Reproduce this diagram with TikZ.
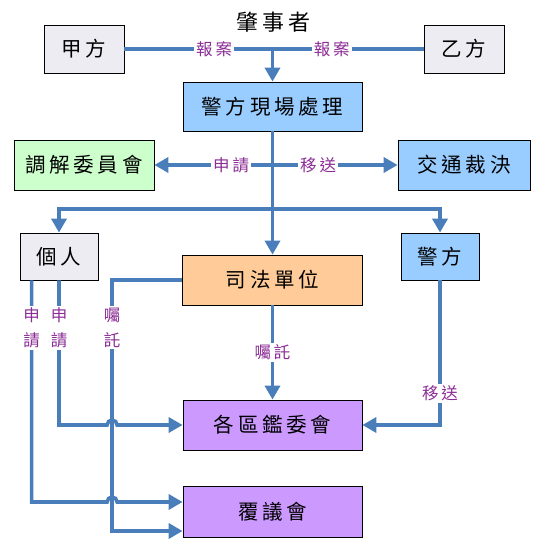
\documentclass[tikz,border=0pt]{standalone}
\usepackage{fontspec}
\newfontfamily\boxfont[LetterSpace=18]{Noto Sans CJK TC}
\newfontfamily\labfont[LetterSpace=18]{Noto Sans CJK TC}
\newfontfamily\vlabfont{Noto Sans CJK TC}
\usetikzlibrary{arrows.meta,calc,shadows}
\definecolor{flowblue}{RGB}{74,126,187}
\definecolor{labpurple}{RGB}{140,45,150}
\definecolor{partygray}{RGB}{236,236,242}
\definecolor{policeblue}{RGB}{153,204,255}
\definecolor{mediategreen}{RGB}{204,255,204}
\definecolor{courtorange}{RGB}{255,204,153}
\definecolor{boardpurple}{RGB}{204,153,255}
\tikzset{
  box/.style={draw=black, line width=0.8pt, inner sep=0pt, font=\boxfont\fontsize{20.5}{20.5}\selectfont,
    drop shadow={shadow xshift=0.8pt, shadow yshift=-1.2pt, opacity=0.35}},
  conn/.style={draw=flowblue, line width=3.6pt},
  conarr/.style={conn, -{Triangle[width=15pt,length=14pt]}},
  lab/.style={fill=white, text=labpurple, inner sep=2pt, font=\labfont\fontsize{16.5}{16.5}\selectfont},
  vlab/.style={fill=white, text=labpurple, inner sep=2pt, align=center, font=\vlabfont\fontsize{16.5}{25}\selectfont},
}

\begin{document}
\begin{tikzpicture}[x=1pt,y=-1pt]
	%%%%% START %%%%%
	\useasboundingbox (0,0) rectangle (544,548);

	\node[font=\boxfont\fontsize{22}{22}\selectfont] (driver) at (273.5,22) {肇事者};
	\node[box, fill=partygray, minimum width=80pt, minimum height=48pt] (jia) at (84,49) {甲方};
	\node[box, fill=partygray, minimum width=80pt, minimum height=48pt] (yi) at (464,49) {乙方};
	\node[box, fill=policeblue, minimum width=179pt, minimum height=49pt] (scene) at (272.5,106.5) {警方現場處理};

	\node[box, fill=mediategreen, minimum width=140pt, minimum height=50pt] (mediate) at (84,165) {調解委員會};
	\node[box, fill=policeblue, minimum width=132pt, minimum height=50pt] (traffic) at (464,165) {交通裁決};

	\node[box, fill=partygray, minimum width=78pt, minimum height=47pt] (person) at (59,256.5) {個人};
	\node[box, fill=policeblue, minimum width=78pt, minimum height=47pt] (police) at (440,256.5) {警方};
	\node[box, fill=courtorange, minimum width=180pt, minimum height=50pt] (judicial) at (272.5,280) {司法單位};

	\node[box, fill=boardpurple, minimum width=179pt, minimum height=50pt] (board) at (272.5,425) {各區鑑委會};
	\node[box, fill=boardpurple, minimum width=179pt, minimum height=51pt] (review) at (272.5,511.5) {覆議會};

	% top: report and on-site handling
	\draw[conn] (jia.east) -- node[lab,pos=0.3]{報案} node[lab,pos=0.693]{報案} (yi.west);
	\draw[conarr] (jia.east -| scene.north) -- (scene.north);
	\draw[conarr] (scene.south) -- (scene.south |- judicial.north);
	\draw[conarr] (scene.south |- mediate.east) -- node[lab,pos=0.35]{申請} (mediate.east);
	\draw[conarr] (scene.south |- traffic.west) -- node[lab,pos=0.365]{移送} (traffic.west);

	\coordinate (fork) at (272.5,209);
	\draw[conarr] (fork) -| (person.north);
	\draw[conarr] (fork) -| (police.north);

	% bottom: to the boards
	\coordinate (pfar) at ($(person.south west)+(12,0)$);
	\coordinate (jbend) at ($(judicial.west)+(-70,0)$);
	\coordinate (revtop) at ($(review.west)+(0,-9.5)$);
	\coordinate (revlow) at ($(review.west)+(0,19.5)$);

	\draw[conarr] (judicial.west) -- (jbend) -- node[vlab,pos=0.19]{囑\\託} (jbend |- revlow) -- (revlow);
	\draw[conarr] (person.south) -- node[vlab,pos=0.33]{申\\請} (person.south |- board.west)
		-- ($(jbend |- board.west)+(-5,0)$) arc[start angle=180,end angle=360,radius=5] -- (board.west);
	\draw[conarr] (pfar) -- node[vlab,pos=0.214]{申\\請} (pfar |- revtop)
		-- ($(jbend |- revtop)+(-5,0)$) arc[start angle=180,end angle=360,radius=5] -- (revtop);

	\draw[conarr] (judicial.south) -- node[lab]{囑託} (judicial.south |- board.north);
	\draw[conarr] (police.south) -- node[lab,pos=0.78]{移送} (police.south |- board.east) -- (board.east);
	%%%%% END %%%%%
\end{tikzpicture}
\end{document}
